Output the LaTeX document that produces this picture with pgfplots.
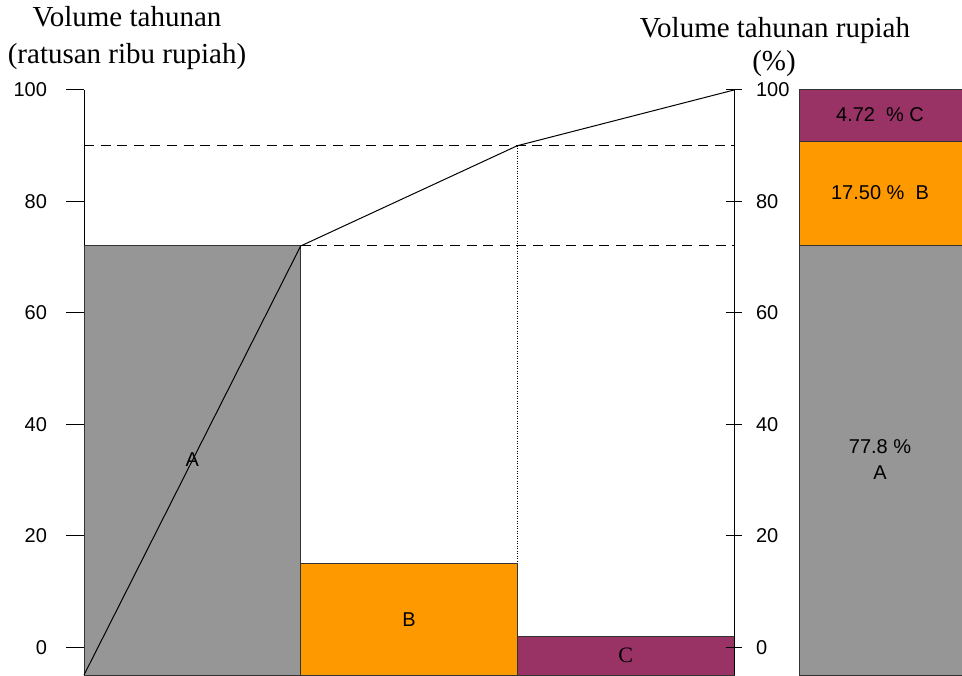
\documentclass[border=0pt]{standalone}
\usepackage{fontspec}
\setmainfont{Liberation Serif}
\setsansfont{Liberation Sans}
\usepackage{pgfplots}
\pgfplotsset{compat=1.18}

\definecolor{abuA}{RGB}{150,150,150}
\definecolor{oranyeB}{RGB}{255,153,0}
\definecolor{unguC}{RGB}{153,51,102}

\pgfplotsset{
  abc/.style={
    scale only axis, width=325pt, height=292.5pt,
    xmin=0, xmax=3, ymin=-5, ymax=100,
    axis x line=none,
    axis line style={-, black, line width=0.5pt},
    ytick={0,20,...,100},
    tick style={black, line width=0.5pt},
    ticklabel style={font=\sffamily\fontsize{10}{12}\selectfont},
    /pgf/number format/assume math mode=true,
    clip=false,
  },
}
\tikzset{lbl/.style={font=\sffamily\fontsize{10}{13}\selectfont, align=center}}

\begin{document}
\begin{tikzpicture}
\useasboundingbox (0,0) rectangle (481pt,337.5pt);

\begin{axis}[abc, at={(42pt,0pt)}, anchor=south west,
    axis y line*=left, tick align=outside, major tick length=9pt,
    yticklabel style={xshift=-6pt}]
  % garis bantu
  \addplot[black, line width=0.5pt, dash pattern=on 0.5pt off 0.75pt] coordinates {(2,90) (2,-5)};
  % batang A, B, C
  \addplot[fill=abuA, draw=black!80, line width=0.5pt] coordinates {(0,-5) (0,72) (1,72) (1,-5)} -- cycle;
  \addplot[fill=oranyeB, draw=black!80, line width=0.5pt] coordinates {(1,-5) (1,15) (2,15) (2,-5)} -- cycle;
  \addplot[fill=unguC, draw=black!80, line width=0.5pt] coordinates {(2,-5) (2,2) (3,2) (3,-5)} -- cycle;
  % batang persentase
  \addplot[fill=abuA, draw=black!80, line width=0.5pt] coordinates {(3.30,-5) (3.30,72) (4.07,72) (4.07,-5)} -- cycle;
  \addplot[fill=oranyeB, draw=black!80, line width=0.5pt] coordinates {(3.30,72) (3.30,90.7) (4.07,90.7) (4.07,72)} -- cycle;
  \addplot[fill=unguC, draw=black!80, line width=0.5pt] coordinates {(3.30,90.7) (3.30,100) (4.07,100) (4.07,90.7)} -- cycle;
  % garis putus-putus
  \addplot[black, line width=0.5pt, dash pattern=on 5pt off 3.3pt] coordinates {(0,90) (3,90)};
  \addplot[black, line width=0.5pt, dash pattern=on 5pt off 3.3pt] coordinates {(1,72) (3,72)};
  % kurva kumulatif
  \addplot[black, line width=0.5pt] coordinates {(0,-5) (1,72) (2,90) (3,100)};

  \node[lbl] at (axis cs:0.5,33.6) {A};
  \node[lbl] at (axis cs:1.5,5) {B};
  \node[font=\fontsize{11}{13}\selectfont] at (axis cs:2.5,-1.5) {C};
  \node[lbl] at (axis cs:3.674,33.6) {77.8 \%\\A};
  \node[lbl] at (axis cs:3.674,81.5) {17.50 \%\ \ B};
  \node[lbl] at (axis cs:3.674,95.5) {4.72\ \ \% C};
\end{axis}

\begin{axis}[abc, at={(42pt,0pt)}, anchor=south west,
    axis y line*=right, tick align=center, major tick length=8pt,
    yticklabel style={xshift=3.5pt}]
\end{axis}

\node[anchor=base, font=\fontsize{14.5}{15}\selectfont] at (63.5pt,324pt) {Volume tahunan};
\node[anchor=base, font=\fontsize{14.5}{15}\selectfont] at (63.5pt,305.5pt) {(ratusan ribu rupiah)};
\node[anchor=base, font=\fontsize{14.5}{15}\selectfont] at (387.5pt,318.5pt) {Volume tahunan rupiah};
\node[anchor=base, font=\fontsize{14.5}{15}\selectfont] at (387pt,302pt) {(\%)};
\end{tikzpicture}
\end{document}
